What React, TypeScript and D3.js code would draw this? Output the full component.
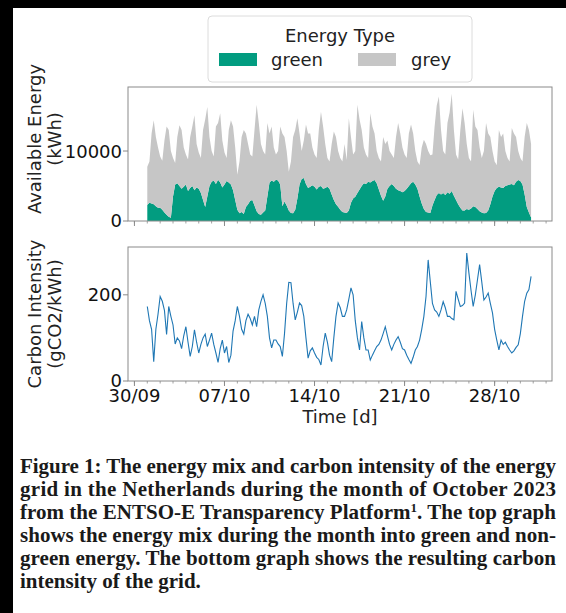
import React from "react";
import * as d3 from "d3";

// ---------- DATA ----------
const startUtc = Date.UTC(2023, 9, 1, 0, 0);
const stepHours = 4;

const greenEnergy = [
  2300, 2600, 2500, 2400, 2100, 1900,
  1900, 1600, 1200, 900, 600, 450,
  3500, 5200, 5400, 5000, 4600, 4900,
  5200, 4300, 4700, 5000, 4400, 4800,
  4600, 4000, 3000, 2000, 3500, 5000,
  5600, 5800, 5300, 5900, 5500, 4800,
  5200, 5700, 5500, 5200, 4400, 3000,
  1600, 1100, 1300, 1000, 2000, 2400,
  2900, 3000, 2200, 1400, 1000, 900,
  1200, 1500, 3500, 5500, 5800, 5600,
  5900, 5800, 5200, 2100, 2800, 2200,
  1500, 1150, 1100, 1600, 3200, 5200,
  6000, 6150, 5300, 4700, 4900, 5100,
  4900, 4500, 4900, 5000, 4600, 4700,
  4900, 4600, 3800, 3000, 2400, 2050,
  1600, 1300, 1200, 1150, 1500, 2600,
  3200, 3470, 4000, 4500, 5000, 5400,
  5300, 5600, 5500, 5700, 5870, 5400,
  4500, 3600, 2900, 3500, 4600, 5000,
  5300, 5000, 4600, 4400, 4300, 4100,
  4300, 4600, 5000, 5400, 5600, 5200,
  4600, 3500, 2500, 1700, 1300, 1200,
  1150, 2200, 3000, 3700, 4000, 3800,
  4000, 3700, 4100, 3900, 4300, 3600,
  3000, 2400, 1900, 1500, 1500, 1700,
  1600, 1800, 2100, 2000, 1700, 1400,
  1200, 1100, 1150, 1500, 2400, 3500,
  4300, 4700, 4900, 4800, 4700, 5000,
  5100, 5200, 5300, 5100, 5600, 5870,
  5700, 5200, 3800, 2000, 1200, 500,
];

// total available energy (top of the grey band)
const totalEnergy = [
  7770, 8500, 12500, 14400, 12000, 10500,
  9200, 8600, 11500, 13500, 13000, 10000,
  9000, 8300, 12000, 13700, 13000, 10500,
  9500, 8800, 12000, 13500, 15100, 11000,
  9800, 9000, 13000, 14500, 16300, 12000,
  10000, 9200, 13500, 14000, 15400, 11500,
  9800, 9000, 13000, 14400, 13500, 10500,
  6600, 8500, 12000, 13000, 12500, 11000,
  9500, 9200, 13000, 16600, 14000, 11000,
  10000, 9500, 14000, 12500, 13500, 10500,
  9500, 10000, 13500, 12500, 12000, 10000,
  7050, 8500, 12000, 13000, 14700, 12500,
  10000, 11500, 13800, 12500, 12500, 10500,
  9500, 9000, 13000, 15600, 13500, 11000,
  9000, 8500, 11000, 12800, 12000, 10000,
  9000, 8500, 11000, 8720, 14700, 12000,
  9500, 10000, 16600, 14500, 13000, 10500,
  9500, 9000, 15400, 13500, 12500, 10000,
  9000, 8500, 12000, 11000, 11500, 10000,
  9500, 9000, 12000, 14000, 12500, 10500,
  9500, 9000, 12500, 13800, 12500, 10000,
  8500, 8000, 10500, 11600, 11000, 10000,
  9400, 9500, 13500, 16500, 17800, 13000,
  10000, 9500, 14000, 15500, 18200, 13000,
  9500, 8800, 13000, 16100, 14000, 11000,
  9000, 8500, 15900, 13500, 13000, 10500,
  9000, 10000, 14000, 12500, 12000, 10000,
  8500, 8000, 13000, 12000, 12500, 10000,
  9000, 8500, 13300, 12500, 12000, 10000,
  9000, 8500, 12000, 14000, 13000, 11000,
];

const carbonIntensity = [
  173, 140, 120, 45, 120, 155,
  196, 185, 164, 108, 173, 150,
  130, 86, 100, 93, 75, 105,
  126, 90, 57, 80, 119, 90,
  65, 85, 100, 109, 80, 95,
  111, 85, 65, 43, 75, 95,
  65, 80, 43, 60, 116, 140,
  173, 150, 120, 109, 140, 155,
  145, 130, 150, 126, 165, 185,
  200, 180, 150, 100, 77, 95,
  95, 86, 80, 57, 110, 180,
  229, 228, 180, 142, 160, 181,
  175, 150, 100, 53, 70, 77,
  65, 55, 50, 37, 80, 111,
  90, 60, 45, 100, 150, 181,
  170, 150, 150, 165, 190, 216,
  200, 140, 100, 72, 138, 100,
  72, 72, 49, 60, 70, 80,
  85, 95, 110, 126, 105, 85,
  72, 85, 95, 103, 90, 75,
  72, 60, 50, 41, 55, 72,
  80, 95, 120, 150, 196, 281,
  230, 180, 165, 160, 150, 165,
  184, 170, 150, 150, 145, 142,
  208, 190, 173, 175, 181, 297,
  251, 210, 173, 200, 235, 270,
  230, 188, 195, 204, 180, 158,
  120, 95, 72, 95, 85, 90,
  80, 72, 65, 70, 78, 84,
  110, 150, 185, 204, 212, 243,
];

const xTickDates = ["2023-09-30", "2023-10-07", "2023-10-14", "2023-10-21", "2023-10-28"];
const energyTicks = [0, 10000];
const carbonTicks = [0, 200];
const seriesKeys = ["green", "grey"];
const legendTitle = "Energy Type";
const topYLabel = ["Available Energy", "(kWh)"];
const bottomYLabel = ["Carbon Intensity", "(gCO2/kWh)"];
const xLabel = "Time [d]";
const captionLines = [
  "Figure 1: The energy mix and carbon intensity of the energy",
  "grid in the Netherlands during the month of October 2023",
  "from the ENTSO-E Transparency Platform",
  "shows the energy mix during the month into green and non-",
  "green energy. The bottom graph shows the resulting carbon",
  "intensity of the grid.",
];

// ---------- LAYOUT ----------
const W = 566;
const H = 613;
const AX_L = 128;
const AX_R = 552;
const TOP = { y0: 87, y1: 221 };
const BOT = { y0: 247, y1: 381 };
const DAY = 86400000;
const FONT = "'DejaVu Sans', sans-serif";
const FS = 18;
const FRAME = "#8a8a8a";
const GREEN = "#029c80";
const GREY = "#c6c6c6";
const LINE = "#1f77b4";

export default function App() {
  const times = greenEnergy.map((_, i) => new Date(startUtc + i * stepHours * 3600000));
  const x = d3
    .scaleUtc()
    .domain([new Date(startUtc - 1.5 * DAY), new Date(startUtc + 31.46 * DAY)])
    .range([AX_L, AX_R]);
  const yTop = d3.scaleLinear().domain([0, 19150]).range([TOP.y1, TOP.y0]);
  const yBot = d3.scaleLinear().domain([0, 311]).range([BOT.y1, BOT.y0]);

  const rows = times.map((t, i) => ({ t, green: greenEnergy[i], grey: totalEnergy[i] - greenEnergy[i] }));
  const stacked = d3.stack<any>().keys(seriesKeys)(rows);
  const area = d3
    .area<any>()
    .x((d) => x(d.data.t))
    .y0((d) => yTop(d[0]))
    .y1((d) => yTop(d[1]));
  const line = d3
    .line<number>()
    .x((_, i) => x(times[i]))
    .y((d) => yBot(d));

  const majorTicks = xTickDates.map((s) => new Date(s + "T00:00:00Z"));
  const minorTicks = d3.utcDay.range(x.domain()[0], x.domain()[1]);
  const fmt = d3.utcFormat("%d/%m");

  const xTicks = (panel: { y0: number; y1: number }, key: string) => (
    <g key={key}>
      {minorTicks.map((t, i) => (
        <line key={"m" + i} x1={x(t)} x2={x(t)} y1={panel.y1} y2={panel.y1 + 2.5} stroke={FRAME} strokeWidth={0.8} />
      ))}
      {majorTicks.map((t, i) => (
        <line key={"M" + i} x1={x(t)} x2={x(t)} y1={panel.y1} y2={panel.y1 + 5} stroke={FRAME} strokeWidth={1} />
      ))}
    </g>
  );

  return (
    <svg width={W} height={H} style={{ position: "absolute", left: 0, top: 0, background: "#fff" }} fontFamily={FONT}>
      <rect x={0} y={0} width={W} height={H} fill="#fff" />
      <rect x={0} y={0} width={W} height={8} fill="#000" />
      <rect x={0} y={0} width={13} height={H} fill="#000" />

      {/* Legend */}
      <rect x={208} y={16} width={264} height={66} rx={4} fill="#fff" stroke="#dcdcdc" strokeWidth={1} />
      <text x={340} y={42} textAnchor="middle" fontSize={FS} fill="#222">{legendTitle}</text>
      <rect x={219} y={53} width={38} height={13} fill={GREEN} />
      <text x={271} y={66} fontSize={FS} fill="#222">{seriesKeys[0]}</text>
      <rect x={358} y={53} width={38} height={13} fill={GREY} />
      <text x={411} y={66} fontSize={FS} fill="#222">{seriesKeys[1]}</text>

      {/* Top panel */}
      <g>
        {stacked.map((s, i) => (
          <path key={s.key} d={area(s) || ""} fill={i === 0 ? GREEN : GREY} />
        ))}
        <rect x={AX_L} y={TOP.y0} width={AX_R - AX_L} height={TOP.y1 - TOP.y0} fill="none" stroke={FRAME} strokeWidth={1} />
        {xTicks(TOP, "tt")}
        {energyTicks.map((v) => (
          <g key={v}>
            <line x1={AX_L - 5} x2={AX_L} y1={yTop(v)} y2={yTop(v)} stroke={FRAME} />
            <text x={AX_L - 6} y={yTop(v)} dy="0.36em" textAnchor="end" fontSize={FS} fill="#111">{v}</text>
          </g>
        ))}
        <text transform={`translate(41,139) rotate(-90)`} textAnchor="middle" fontSize={FS} fill="#222">{topYLabel[0]}</text>
        <text transform={`translate(61,139) rotate(-90)`} textAnchor="middle" fontSize={FS} fill="#222">{topYLabel[1]}</text>
      </g>

      {/* Bottom panel */}
      <g>
        <path d={line(carbonIntensity) || ""} fill="none" stroke={LINE} strokeWidth={1.1} />
        <rect x={AX_L} y={BOT.y0} width={AX_R - AX_L} height={BOT.y1 - BOT.y0} fill="none" stroke={FRAME} strokeWidth={1} />
        {xTicks(BOT, "bt")}
        {carbonTicks.map((v) => (
          <g key={v}>
            <line x1={AX_L - 5} x2={AX_L} y1={yBot(v)} y2={yBot(v)} stroke={FRAME} />
            <text x={AX_L - 6} y={yBot(v)} dy="0.36em" textAnchor="end" fontSize={FS} fill="#111">{v}</text>
          </g>
        ))}
        {majorTicks.map((t, i) => (
          <text key={i} x={x(t)} y={402} textAnchor="middle" fontSize={FS} fill="#111">{fmt(t)}</text>
        ))}
        <text x={(AX_L + AX_R) / 2} y={423} textAnchor="middle" fontSize={FS} fill="#222">{xLabel}</text>
        <text transform={`translate(41,314) rotate(-90)`} textAnchor="middle" fontSize={FS} fill="#222">{bottomYLabel[0]}</text>
        <text transform={`translate(61,314) rotate(-90)`} textAnchor="middle" fontSize={FS} fill="#222">{bottomYLabel[1]}</text>
      </g>

      {/* Caption */}
      <g fontFamily="'Liberation Serif', 'DejaVu Serif', serif" fontWeight="bold" fontSize={21} fill="#1a1a1a">
        {captionLines.map((l, i) => {
          const y = 473 + i * 23;
          if (i === 2) {
            return (
              <text key={i} x={20} y={y} textLength={536} lengthAdjust="spacing">
                {l}
                <tspan fontSize={13} dy={-7}>1</tspan>
                <tspan dy={7}>. The top graph</tspan>
              </text>
            );
          }
          if (i === captionLines.length - 1) {
            return <text key={i} x={20} y={y}>{l}</text>;
          }
          return (
            <text key={i} x={20} y={y} textLength={536} lengthAdjust="spacing">{l}</text>
          );
        })}
      </g>
    </svg>
  );
}
